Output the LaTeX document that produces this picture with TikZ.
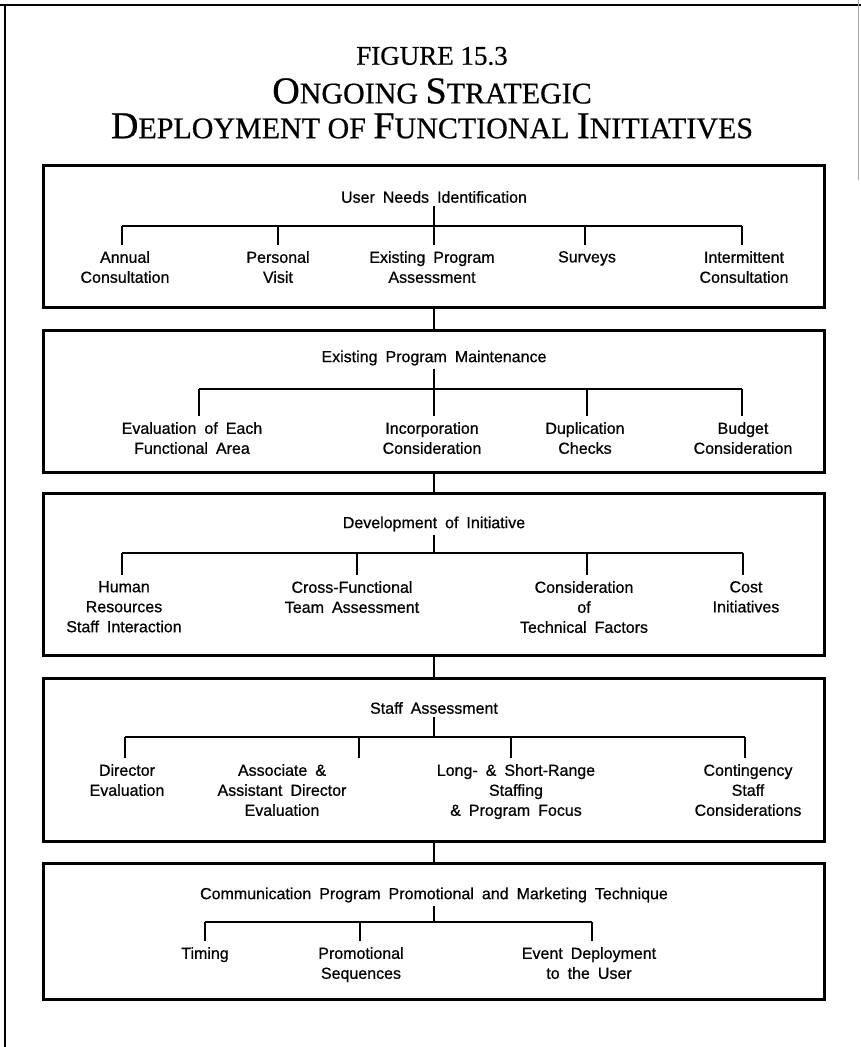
\documentclass[tikz,border=0pt]{standalone}
\usepackage{fontspec}
\setmainfont{Liberation Sans}[FakeBold=0.7]
\newfontfamily\headfont{Liberation Serif}[FakeBold=0.6]
\usetikzlibrary{positioning}
% fake small caps for the heading
\newcommand{\scap}[2]{{\fontsize{38}{38}\selectfont #1}{\fontsize{30}{30}\selectfont #2}}
\newcommand{\boxfont}{\fontsize{16}{20}\selectfont\spaceskip=0.5em\relax}

\begin{document}
\begin{tikzpicture}[x=1pt, y=-1pt,
    panel/.style={draw, line width=3pt, minimum width=781pt, inner sep=0pt},
    head/.style={font=\boxfont, inner xsep=0pt, inner ysep=3pt},
    item/.style={font=\boxfont, align=center, anchor=north, inner xsep=0pt, inner ysep=6pt},
    link/.style={line width=1.6pt},
    joint/.style={line width=2.5pt}]
    \useasboundingbox (0,0) rectangle (861,1047);

    % page frame
    \draw[line width=2.5pt] (0,5) -- (861,5);
    \draw[line width=2pt] (5,5) -- (5,1047);
    \draw[line width=0.8pt, black!35] (858,0) -- (858,180);

    % heading
    \node[font=\headfont\fontsize{27}{27}\selectfont] (fig) at (432,56) {FIGURE 15.3};
    \node[font=\headfont\fontsize{30}{30}\selectfont] (ttl1) at (432,91) {\scap{O}{NGOING} \scap{S}{TRATEGIC}};
    \node[font=\headfont\fontsize{30}{30}\selectfont] (ttl2) at (432,126) {\scap{D}{EPLOYMENT} OF \scap{F}{UNCTIONAL} \scap{I}{NITIATIVES}};

    % boxes
    \node[panel, minimum height=142pt] (b1) at (434,236) {};
    \node[panel, minimum height=142pt] (b2) at (434,401) {};
    \node[panel, minimum height=162pt] (b3) at (434,574) {};
    \node[panel, minimum height=163pt] (b4) at (434,759.5) {};
    \node[panel, minimum height=136pt] (b5) at (434,931) {};
    \draw[joint] (b1.south) -- (b2.north);
    \draw[joint] (b2.south) -- (b3.north);
    \draw[joint] (b3.south) -- (b4.north);
    \draw[joint] (b4.south) -- (b5.north);

    % user needs
    \node[head] (h1) at (434,197) {User Needs Identification};
    \coordinate (k1a) at (122,226);
    \coordinate (k1b) at (278,226);
    \coordinate (k1c) at (434,226);
    \coordinate (k1d) at (585,226);
    \coordinate (k1e) at (742,226);
    \node[item] (c1a) at (125,245) {Annual\\Consultation};
    \node[item] (c1b) at (278,245) {Personal\\Visit};
    \node[item] (c1c) at (432,245) {Existing Program\\Assessment};
    \node[item] (c1d) at (587,245) {Surveys};
    \node[item] (c1e) at (744,245) {Intermittent\\Consultation};
    \draw[link] (h1) -- (k1c);
    \draw[link] (k1a) -- (k1e);
    \foreach \k/\c in {k1a/c1a, k1b/c1b, k1c/c1c, k1d/c1d, k1e/c1e}
        \draw[link] (\k) -- (\k |- \c.north);

    % maintenance
    \node[head] (h2) at (434,358) {Existing Program Maintenance};
    \coordinate (k2a) at (199,389);
    \coordinate (k2b) at (434,389);
    \coordinate (k2c) at (587,389);
    \coordinate (k2d) at (742,389);
    \node[item] (c2a) at (192,416) {Evaluation of Each\\Functional Area};
    \node[item] (c2b) at (432,416) {Incorporation\\Consideration};
    \node[item] (c2c) at (585,416) {Duplication\\Checks};
    \node[item] (c2d) at (743,416) {Budget\\Consideration};
    \draw[link] (h2) -- (k2b);
    \draw[link] (k2a) -- (k2d);
    \foreach \k/\c in {k2a/c2a, k2b/c2b, k2c/c2c, k2d/c2d}
        \draw[link] (\k) -- (\k |- \c.north);

    % initiative
    \node[head] (h3) at (434,524) {Development of Initiative};
    \coordinate (k3a) at (122,553);
    \coordinate (k3b) at (357,553);
    \coordinate (k3c) at (587,553);
    \coordinate (k3d) at (743,553);
    \node[item] (c3a) at (124,575) {Human\\Resources\\Staff Interaction};
    \node[item] (c3b) at (352,575) {Cross-Functional\\Team Assessment};
    \node[item] (c3c) at (584,575) {Consideration\\of\\Technical Factors};
    \node[item] (c3d) at (746,575) {Cost\\Initiatives};
    \draw[link] (h3) -- (k3a -| h3);
    \draw[link] (k3a) -- (k3d);
    \foreach \k/\c in {k3a/c3a, k3b/c3b, k3c/c3c, k3d/c3d}
        \draw[link] (\k) -- (\k |- \c.north);

    % staff
    \node[head] (h4) at (434,708) {Staff Assessment};
    \coordinate (k4a) at (125,737);
    \coordinate (k4b) at (359,737);
    \coordinate (k4c) at (511,737);
    \coordinate (k4d) at (745,737);
    \node[item] (c4a) at (127,758) {Director\\Evaluation};
    \node[item] (c4b) at (282,758) {Associate \&\\Assistant Director\\Evaluation};
    \node[item] (c4c) at (516,758) {Long- \& Short-Range\\Staffing\\\& Program Focus};
    \node[item] (c4d) at (748,758) {Contingency\\Staff\\Considerations};
    \draw[link] (h4) -- (k4a -| h4);
    \draw[link] (k4a) -- (k4d);
    \foreach \k/\c in {k4a/c4a, k4b/c4b, k4c/c4c, k4d/c4d}
        \draw[link] (\k) -- (\k |- \c.north);

    % promotion
    \node[head] (h5) at (434,895) {Communication Program Promotional and Marketing Technique};
    \coordinate (k5a) at (205,922);
    \coordinate (k5b) at (360,922);
    \coordinate (k5c) at (592,922);
    \node[item] (c5a) at (205,941) {Timing};
    \node[item] (c5b) at (361,941) {Promotional\\Sequences};
    \node[item] (c5c) at (589,941) {Event Deployment\\to the User};
    \draw[link] (h5) -- (k5a -| h5);
    \draw[link] (k5a) -- (k5c);
    \foreach \k/\c in {k5a/c5a, k5b/c5b, k5c/c5c}
        \draw[link] (\k) -- (\k |- \c.north);
\end{tikzpicture}
\end{document}
